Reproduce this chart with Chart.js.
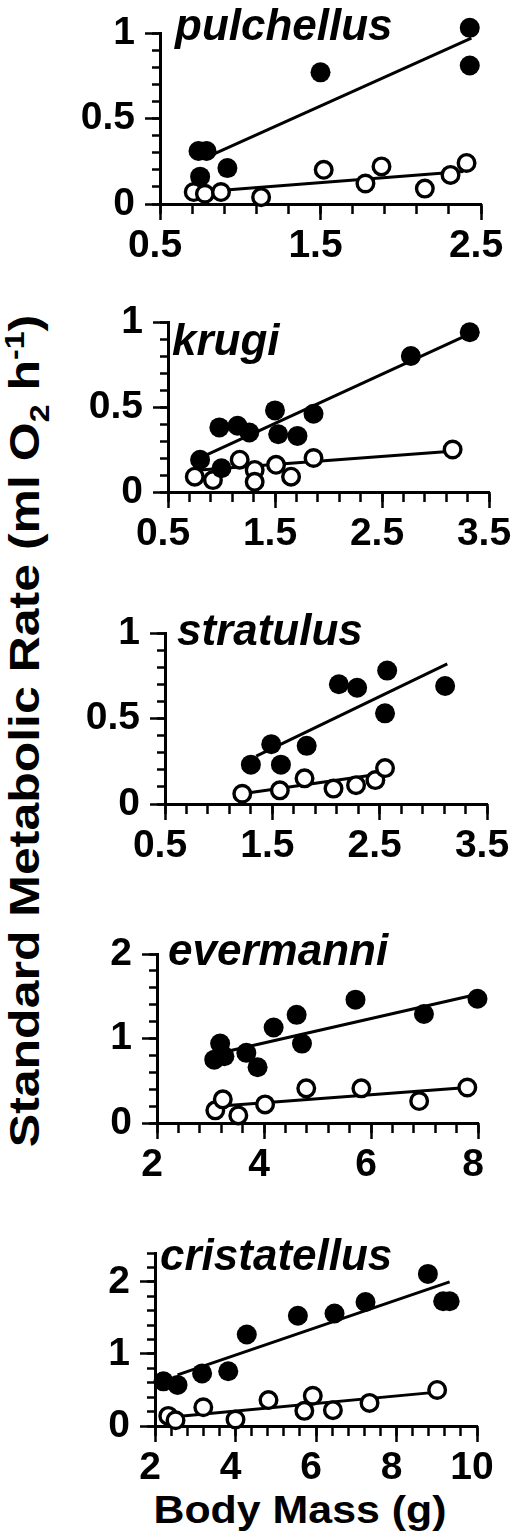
<!DOCTYPE html>
<html>
<head>
<meta charset="utf-8">
<script src="https://cdn.jsdelivr.net/npm/chart.js@4"></script>
<style>
  body { margin: 0; background: #fff; width: 514px; height: 1540px; position: relative; overflow: hidden;
         font-family: "Liberation Sans", Arial, sans-serif; color: #000; }
  canvas.panel { position: absolute; left: 0; }
  #yTitle { position: absolute; left: 28px; top: 731px; white-space: nowrap; font-weight: bold; font-size: 42px;
            line-height: normal; transform: translate(-50%, -50%) rotate(-90deg) scale(1.19, 1); }
  #yTitle sub, #yTitle sup { font-size: 27px; }
  #xTitle { position: absolute; left: 300px; top: 1488px; transform: translateX(-50%) scale(1.1, 1); white-space: nowrap;
            font-weight: bold; font-size: 39px; }
</style>
</head>
<body>
<div id="yTitle">Standard Metabolic Rate (ml O<sub>2</sub> h<sup>-1</sup>)</div>
<div id="xTitle">Body Mass (g)</div>
<script>
// pulchellus
const pulFilledX = [0.74, 0.79, 0.75, 0.92, 1.50, 2.43, 2.43];
const pulFilledY = [0.31, 0.31, 0.16, 0.21, 0.77, 1.03, 0.81];
const pulOpenX = [0.71, 0.78, 0.88, 1.13, 1.52, 1.78, 1.88, 2.15, 2.31, 2.41];
const pulOpenY = [0.07, 0.06, 0.07, 0.04, 0.20, 0.12, 0.22, 0.09, 0.17, 0.24];
const pulFitFilled = [[0.83, 0.29], [2.44, 0.97]];
const pulFitOpen = [[0.75, 0.07], [2.39, 0.19]];

// krugi
const kruFilledX = [0.80, 1.00, 0.98, 1.15, 1.26, 1.50, 1.53, 1.71, 1.86, 2.77, 3.32];
const kruFilledY = [0.19, 0.14, 0.38, 0.39, 0.35, 0.48, 0.34, 0.33, 0.46, 0.80, 0.94];
const kruOpenX = [0.75, 0.92, 1.17, 1.31, 1.31, 1.51, 1.65, 1.86, 3.16];
const kruOpenY = [0.09, 0.07, 0.19, 0.13, 0.06, 0.16, 0.09, 0.20, 0.25];
const kruFitFilled = [[0.83, 0.21], [3.32, 0.93]];
const kruFitOpen = [[0.80, 0.13], [3.15, 0.24]];

// stratulus
const strFilledX = [1.30, 1.49, 1.58, 1.82, 2.12, 2.29, 2.57, 2.55, 3.11];
const strFilledY = [0.23, 0.35, 0.23, 0.34, 0.70, 0.68, 0.78, 0.53, 0.69];
const strOpenX = [1.22, 1.57, 1.80, 2.07, 2.28, 2.46, 2.55];
const strOpenY = [0.06, 0.08, 0.15, 0.09, 0.11, 0.14, 0.21];
const strFitFilled = [[1.35, 0.28], [3.13, 0.82]];
const strFitOpen = [[1.22, 0.06], [2.55, 0.18]];

// evermanni
const eveFilledX = [3.07, 3.18, 3.26, 3.67, 3.88, 4.18, 4.61, 4.71, 5.71, 6.99, 7.99];
const eveFilledY = [0.75, 0.94, 0.79, 0.83, 0.66, 1.13, 1.28, 0.94, 1.46, 1.29, 1.47];
const eveOpenX = [3.09, 3.23, 3.52, 4.02, 4.79, 5.82, 6.90, 7.80];
const eveOpenY = [0.15, 0.28, 0.09, 0.22, 0.41, 0.41, 0.26, 0.42];
const eveFitFilled = [[3.32, 0.85], [7.97, 1.52]];
const eveFitOpen = [[3.20, 0.20], [7.80, 0.42]];

// cristatellus
const criFilledX = [2.21, 2.56, 3.17, 3.82, 4.28, 5.55, 6.46, 7.23, 8.78, 9.16, 9.32];
const criFilledY = [0.62, 0.57, 0.73, 0.76, 1.27, 1.53, 1.56, 1.72, 2.11, 1.73, 1.73];
const criOpenX = [2.33, 2.51, 3.20, 4.00, 4.82, 5.71, 5.92, 6.42, 7.33, 9.01];
const criOpenY = [0.14, 0.08, 0.26, 0.09, 0.36, 0.21, 0.42, 0.22, 0.32, 0.50];
const criFitFilled = [[2.56, 0.71], [9.32, 2.00]];
const criFitOpen = [[2.36, 0.12], [9.01, 0.47]];

// tick labels
const xLabelsSmall = [0.5, 1.5, 2.5];
const xLabelsMid = [0.5, 1.5, 2.5, 3.5];
const xLabelsEve = [2, 4, 6, 8];
const xLabelsCri = [2, 4, 6, 8, 10];
const yLabelsOne = [0, 0.5, 1];
const yLabelsTwo = [0, 1, 2];

const toPts = (xs, ys) => xs.map((x, i) => ({ x: x, y: ys[i] }));
const toLine = pairs => pairs.map(p => ({ x: p[0], y: p[1] }));

const panels = [
  { name: 'pulchellus', area: [160, 33, 481, 204], x: [0.5, 2.5, 0.2], xl: xLabelsSmall, y: [0, 1, 0.1], yl: yLabelsOne,
    fx: pulFilledX, fy: pulFilledY, ox: pulOpenX, oy: pulOpenY, lf: pulFitFilled, lo: pulFitOpen, tdx: 15, tdy: 7 },
  { name: 'krugi', area: [168, 322, 489, 492], x: [0.5, 3.5, 0.2], xl: xLabelsMid, y: [0, 1, 0.1], yl: yLabelsOne,
    fx: kruFilledX, fy: kruFilledY, ox: kruOpenX, oy: kruOpenY, lf: kruFitFilled, lo: kruFitOpen, tdx: 4, tdy: 33 },
  { name: 'stratulus', area: [165, 633, 487, 804], x: [0.5, 3.5, 0.2], xl: xLabelsMid, y: [0, 1, 0.1], yl: yLabelsOne,
    fx: strFilledX, fy: strFilledY, ox: strOpenX, oy: strOpenY, lf: strFitFilled, lo: strFitOpen, tdx: 12, tdy: 12 },
  { name: 'evermanni', area: [157, 954, 478, 1123], x: [2, 8, 0.4], xl: xLabelsEve, y: [0, 2, 0.2], yl: yLabelsTwo,
    fx: eveFilledX, fy: eveFilledY, ox: eveOpenX, oy: eveOpenY, lf: eveFitFilled, lo: eveFitOpen, tdx: 11, tdy: 11 },
  { name: 'cristatellus', area: [155, 1253, 477, 1426], x: [2, 10, 0.4], xl: xLabelsCri, y: [0, 2.4, 0.2], yl: yLabelsTwo,
    fx: criFilledX, fy: criFilledY, ox: criOpenX, oy: criOpenY, lf: criFitFilled, lo: criFitOpen, tdx: 5, tdy: 17 }
];

/** species name written inside the top-left of the plot */
const panelTitle = {
  id: 'panelTitle',
  afterDraw(chart, args, opts) {
    const ctx = chart.ctx;
    ctx.save();
    ctx.font = 'italic bold 44px "Liberation Sans"';
    ctx.fillStyle = '#000';
    ctx.textBaseline = 'alphabetic';
    ctx.fillText(opts.text, chart.chartArea.left + opts.dx, chart.chartArea.top + opts.dy);
    ctx.restore();
  }
};

const isLabel = (v, list) => list.some(l => Math.abs(l - v) < 1e-6);
const tickFont = { family: 'Liberation Sans', weight: 'bold', size: 39 };
const fmt = v => String(Math.round(v * 10) / 10);

function makePanel(p) {
  const [L, T, R, B] = p.area;
  const top = Math.max(0, T - 50);
  const h = (B - top) + 80;
  const cv = document.createElement('canvas');
  cv.className = 'panel';
  cv.style.top = top + 'px';
  cv.width = 514; cv.height = h;
  cv.style.width = '514px'; cv.style.height = h + 'px';
  document.body.appendChild(cv);

  // labelled ticks long, the rest drawn by the zero-size minor axes
  const majorColor = list => ctx => (ctx.tick && isLabel(ctx.tick.value, list)) ? '#000' : 'rgba(0,0,0,0)';

  new Chart(cv, {
    type: 'scatter',
    data: {
      datasets: [
        { data: toPts(p.fx, p.fy), pointRadius: 10, backgroundColor: '#000', borderColor: '#000', borderWidth: 0, order: 1, clip: false },
        { data: toPts(p.ox, p.oy), pointRadius: 8.3, backgroundColor: '#fff', borderColor: '#000', borderWidth: 3.4, order: 2, clip: false },
        { data: toLine(p.lf), showLine: true, pointRadius: 0, borderColor: '#000', borderWidth: 3, order: 3, clip: false },
        { data: toLine(p.lo), showLine: true, pointRadius: 0, borderColor: '#000', borderWidth: 3, order: 3, clip: false }
      ]
    },
    options: {
      responsive: false,
      animation: false,
      events: [],
      layout: { padding: { left: 0, top: T - top, right: 514 - R, bottom: 0 } },
      plugins: {
        legend: { display: false },
        tooltip: { enabled: false },
        panelTitle: { text: p.name, dx: p.tdx, dy: p.tdy }
      },
      scales: {
        x: {
          type: 'linear', min: p.x[0], max: p.x[1], weight: 1,
          border: { color: '#000', width: 3 },
          grid: { drawOnChartArea: false, tickLength: 16, tickColor: majorColor(p.xl), tickWidth: 2.5 },
          ticks: {
            stepSize: p.x[2], maxTicksLimit: 100, autoSkip: false, maxRotation: 0,
            color: '#000', font: tickFont, padding: 3, labelOffset: -5,
            callback: v => isLabel(v, p.xl) ? fmt(v) : ''
          },
          afterFit: s => { s.height = 80; s.paddingLeft = 0; s.paddingRight = 0; }
        },
        xMinor: {
          type: 'linear', position: 'bottom', min: p.x[0], max: p.x[1], weight: 0,
          border: { display: false },
          grid: { drawOnChartArea: false, tickLength: 10, tickColor: '#000', tickWidth: 2.5 },
          ticks: { display: false, stepSize: p.x[2], maxTicksLimit: 100, autoSkip: false },
          afterFit: s => { s.height = 0; s.paddingLeft = 0; s.paddingRight = 0; }
        },
        y: {
          type: 'linear', min: p.y[0], max: p.y[1], weight: 1,
          border: { color: '#000', width: 3 },
          grid: { drawOnChartArea: false, tickLength: 15, tickColor: majorColor(p.yl), tickWidth: 2.5 },
          ticks: {
            stepSize: p.y[2], maxTicksLimit: 100, autoSkip: false,
            color: '#000', font: tickFont, padding: 10,
            callback: v => isLabel(v, p.yl) ? fmt(v) : ''
          },
          afterFit: s => { s.width = L; s.paddingTop = 0; s.paddingBottom = 0; }
        },
        yMinor: {
          type: 'linear', position: 'left', min: p.y[0], max: p.y[1], weight: 0,
          border: { display: false },
          grid: { drawOnChartArea: false, tickLength: 8, tickColor: '#000', tickWidth: 2.5 },
          ticks: { display: false, stepSize: p.y[2], maxTicksLimit: 100, autoSkip: false },
          afterFit: s => { s.width = 0; s.paddingTop = 0; s.paddingBottom = 0; }
        }
      }
    },
    plugins: [panelTitle]
  });
}

panels.forEach(makePanel);
</script>
</body>
</html>
